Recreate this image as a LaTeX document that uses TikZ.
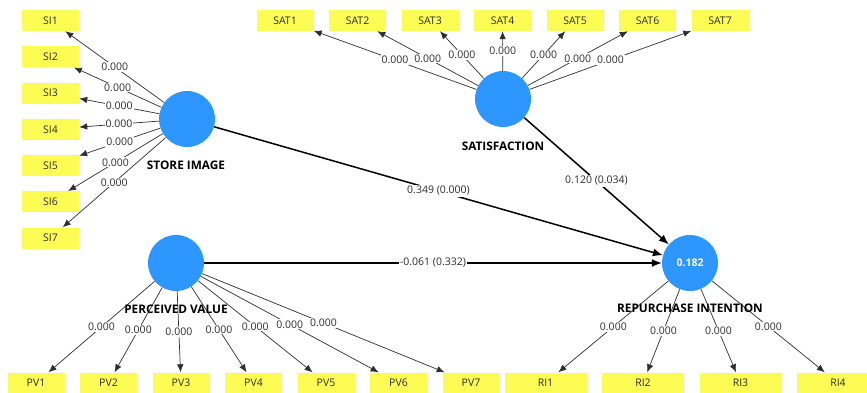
\documentclass[tikz,border=0pt]{standalone}
\usepackage{fontspec}
\setmainfont{Open Sans}
\usetikzlibrary{arrows.meta}
\definecolor{boxyellow}{RGB}{252,252,85}
\definecolor{lvblue}{RGB}{46,150,255}
\definecolor{ink}{RGB}{45,45,45}
\begin{document}
\begin{tikzpicture}[x=1pt,y=-1pt,
 ind/.style={fill=boxyellow, minimum width=57pt, minimum height=21pt, inner sep=0pt, font=\fontsize{10.5}{12}\selectfont, text=ink},
 indw/.style={ind, minimum width=82pt},
 lv/.style={circle, fill=lvblue, minimum size=56pt, inner sep=0pt},
 lvname/.style={font=\bfseries\fontsize{11.8}{13}\selectfont, text=black, inner sep=1pt},
 meas/.style={draw=ink, line width=0.7pt, -{Latex[length=8pt,width=6.5pt]}},
 struct/.style={draw=black, line width=1.5pt, -{Latex[length=10pt,width=8pt]}},
 wt/.style={fill=white, inner sep=1pt, font=\fontsize{10.5}{12}\selectfont, text=ink, midway},
]
\useasboundingbox (0,0) rectangle (867,392);
% latent variables
\node[lv] (si) at (187,119) {};
\node[lv] (sat) at (503,99) {};
\node[lv] (pv) at (176,263) {};
\node[lv, text=white, font=\bfseries\fontsize{10.5}{12}\selectfont] (ri) at (690,263) {0.182};
% indicators
\foreach \i/\y in {1/20.5,2/56.75,3/93,4/129.25,5/165.5,6/201.75,7/238}
  \node[ind] (si\i) at (50.5,\y) {SI\i};
\foreach \i/\x in {1/285,2/357.5,3/430,4/502.5,5/575,6/647.5,7/720}
  \node[ind] (sat\i) at (\x,20.5) {SAT\i};
\foreach \i/\x in {1/36,2/108.5,3/181,4/253.5,5/326,6/398.5,7/471}
  \node[ind] (pv\i) at (\x,383) {PV\i};
\foreach \i/\x in {1/545.5,2/643,3/740.5,4/838}
  \node[indw] (ri\i) at (\x,383) {RI\i};
% measurement paths
\foreach \i in {1,...,7}
  \draw[meas] (si) -- (si\i) node[wt] (wsi\i) {0.000};
\foreach \i in {1,...,7}
  \draw[meas] (sat) -- (sat\i) node[wt] (wsat\i) {0.000};
\foreach \i in {1,...,7}
  \draw[meas] (pv) -- (pv\i) node[wt] (wpv\i) {0.000};
\foreach \i in {1,...,4}
  \draw[meas] (ri) -- (ri\i) node[wt] (wri\i) {0.000};
% structural paths
\draw[struct] (si) -- (ri) node[wt] (b1) {0.349 (0.000)};
\draw[struct] (sat) -- (ri) node[wt] (b2) {0.120 (0.034)};
\draw[struct] (pv) -- (ri) node[wt] (b3) {-0.061 (0.332)};
% latent names
\node[lvname] (siname) at (186,165) {STORE IMAGE};
\node[lvname] (satname) at (503,146) {SATISFACTION};
\node[lvname] (pvname) at (176,309) {PERCEIVED VALUE};
\node[lvname] (riname) at (690,308.5) {REPURCHASE INTENTION};
\end{tikzpicture}
\end{document}
